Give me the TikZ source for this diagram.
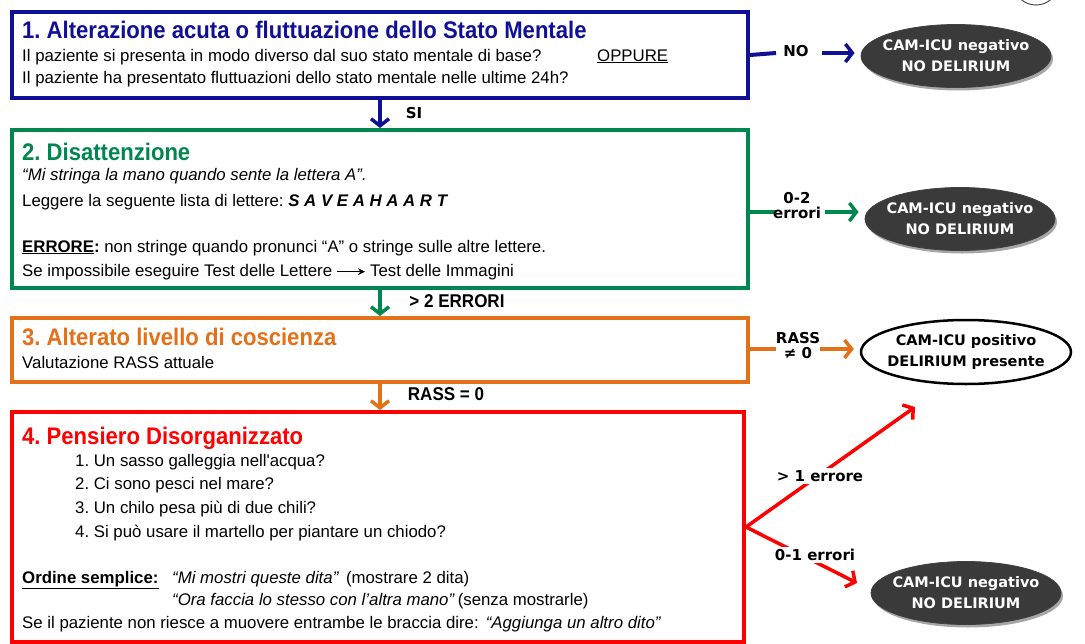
\documentclass[tikz,border=0pt]{standalone}
\usepackage{fontspec}
\setmainfont{Liberation Sans}
\newfontfamily\titlef{Liberation Sans}[FakeStretch=0.92]
\newfontfamily\verd{DejaVu Sans}
\usetikzlibrary{arrows.meta,shapes.geometric,shadows}
\definecolor{cnavy}{RGB}{16,16,150}
\definecolor{cgreen}{RGB}{0,135,80}
\definecolor{corange}{RGB}{228,112,24}
\definecolor{cred}{RGB}{255,0,0}
\definecolor{cdark}{RGB}{58,58,58}
\newcommand{\zl}[1]{\makebox[0pt]{#1}}
\begin{document}
\frenchspacing
\begin{tikzpicture}[x=1pt,y=-1pt,
  stepbox/.style={draw, line width=4pt, fill=white, anchor=north west, inner sep=0pt},
  body/.style={anchor=base west, inner sep=0pt, font=\frenchspacing\fontsize{16.8}{20}\selectfont},
  ttl/.style={anchor=base west, inner sep=0pt, font=\frenchspacing\titlef\bfseries\fontsize{24}{28}\selectfont},
  lbl/.style={inner sep=1pt, font=\verd\bfseries\fontsize{15}{18}\selectfont, align=center},
  lblt/.style={inner sep=1pt, font=\titlef\bfseries\fontsize{18.5}{22}\selectfont},
  outneg/.style={ellipse, fill=cdark, draw=black!75, line width=0.8pt, minimum width=190pt, minimum height=63pt,
    inner sep=0pt, text=white, font=\verd\bfseries\fontsize{14.5}{21}\selectfont, align=center,
    drop shadow={shadow xshift=2pt, shadow yshift=-3pt, fill=black, opacity=0.35}},
  outpos/.style={ellipse, fill=white, draw=black, line width=2.5pt, minimum width=210pt, minimum height=64pt,
    inner sep=0pt, text=black, font=\verd\bfseries\fontsize{14.5}{21}\selectfont, align=center},
  arr/.style={line width=3.5pt, -{Straight Barb[length=7pt,width=18pt]}},
  sideline/.style={line width=4pt},
]
\useasboundingbox (0,0) rectangle (1085,643);
\fill[white] (0,0) rectangle (1085,643);

% fragment of a shape cut off at the top right
\begin{scope}
\clip (0,0) rectangle (1085,643);
\draw[line width=1pt, black!70] (1036,-12) ellipse [x radius=20pt, y radius=17pt];
\end{scope}

% boxes
\node[stepbox, draw=cnavy, minimum width=736pt, minimum height=86pt] (b1) at (10,10) {};
\node[stepbox, draw=cgreen, minimum width=736pt, minimum height=158pt] (b2) at (10,128) {};
\node[stepbox, draw=corange, minimum width=736pt, minimum height=64pt] (b3) at (10,316) {};
\node[stepbox, draw=cred, minimum width=732pt, minimum height=230pt] (b4) at (10,410) {};

% box 1 text
\node[ttl, text=cnavy] (t1) at (22,38) {1. Alterazione acuta o fluttuazione dello Stato Mentale};
\node[body] (t1a) at (22,61) {Il paziente si presenta in modo diverso dal suo stato mentale di base?};
\node[body] (t1o) at (597,61) {\underline{OPPURE}};
\node[body] (t1b) at (22,83) {Il paziente ha presentato fluttuazioni dello stato mentale nelle ultime 24h?};

% box 2 text
\node[ttl, text=cgreen] (t2) at (22,160) {2. Disattenzione};
\node[body] (t2a) at (22,180) {\textit{“Mi stringa la mano quando sente la lettera A”.}};
\node[body] (t2b) at (22,206) {Leggere la seguente lista di lettere: \textbf{\textit{S A V E A H A A R T}}};
\node[body] (t2c) at (22,252) {\underline{\textbf{ERRORE}}\textbf{:} non stringe quando pronunci “A” o stringe sulle altre lettere.};
\node[body] (t2d) at (22,276) {Se impossibile eseguire Test delle Lettere};
\node[body] (t2e) at (370,276) {Test delle Immagini};
\draw[line width=1.5pt, -{Stealth[length=7pt,width=7pt]}, shorten <=5pt, shorten >=5pt] (t2d.east) -- (t2d.east -| t2e.west);

% box 3 text
\node[ttl, text=corange] (t3) at (22,345) {3. Alterato livello di coscienza};
\node[body] (t3a) at (22,368) {Valutazione RASS attuale};

% box 4 text
\node[ttl, text=cred] (t4) at (22,444) {4. Pensiero Disorganizzato};
\node[body] (q1) at (75,466) {1. Un sasso galleggia nell\textquotesingle acqua?};
\node[body] (q2) at (75,489) {2. Ci sono pesci nel mare?};
\node[body] (q3) at (75,513) {3. Un chilo pesa più di due chili?};
\node[body] (q4) at (75,537) {4. Si può usare il martello per piantare un chiodo?};
\node[body] (o0) at (22,583) {\underline{\textbf{Ordine semplice:}}};
\node[body] (o1) at (172,583) {\textit{“Mi mostri queste dita”}\hspace{7pt}(mostrare 2 dita)};
\node[body] (o2) at (172,605) {\textit{“Ora faccia lo stesso con l’altra mano”}\hspace{3pt}(senza mostrarle)};
\node[body] (o3) at (22,628) {Se il paziente non riesce a muovere entrambe le braccia dire:\hspace{7pt}\textit{“Aggiunga un altro dito”}};

% outcome ellipses
\node[outneg] (e1) at (956,56) {\zl{CAM-ICU negativo}\\\zl{NO DELIRIUM}};
\node[outneg] (e2) at (960,219) {\zl{CAM-ICU negativo}\\\zl{NO DELIRIUM}};
\node[outpos] (e3) at (966,352) {\zl{CAM-ICU positivo}\\\zl{DELIRIUM presente}};
\node[outneg] (e4) at (966,593) {\zl{CAM-ICU negativo}\\\zl{NO DELIRIUM}};

% vertical connectors
\draw[arr, cnavy] (b1.south) -- (b2.north);
\node[lbl] (si) at (414,113) {SI};
\draw[arr, cgreen] (b2.south) -- (b3.north);
\node[lblt] (gt2) at (457,301) {> 2 ERRORI};
\draw[arr, corange] (b3.south) -- (b3.south |- b4.north);
\node[lblt] (rass0) at (446,394) {RASS = 0};

% side connectors
\coordinate (c1) at (776,53);
\draw[sideline, cnavy] (b1.east) -- (c1);
\node[lbl] (no1) at (796,51) {NO};
\draw[arr, cnavy] (822,53) -- (c1 -| e1.west) [shorten >=6pt];

\coordinate (c2) at (776,212);
\draw[sideline, cgreen] (b2.east |- c2) -- (c2);
\node[lbl] (er2) at (797,206) {0-2\\[-3pt]errori};
\draw[arr, cgreen] (825,212) -- (c2 -| e2.west) [shorten >=6pt];

\coordinate (c3) at (776,349);
\draw[sideline, corange] (b3.east |- c3) -- (c3);
\node[lbl] (rn) at (798,346) {RASS\\[-3pt]≠ 0};
\draw[arr, corange] (820,349) -- (c3 -| e3.west) [shorten >=6pt];

\coordinate (p1) at (915,407);
\coordinate (p2) at (857,583);
\draw[arr, cred] (b4.east) -- (p1);
\draw[arr, cred] (b4.east) -- (p2);
\node[lbl, fill=white, inner sep=2pt] (gt1) at (820,476) {> 1 errore};
\node[lbl, fill=white, inner sep=2pt] (le1) at (815,555) {0-1 errori};
\end{tikzpicture}
\end{document}
